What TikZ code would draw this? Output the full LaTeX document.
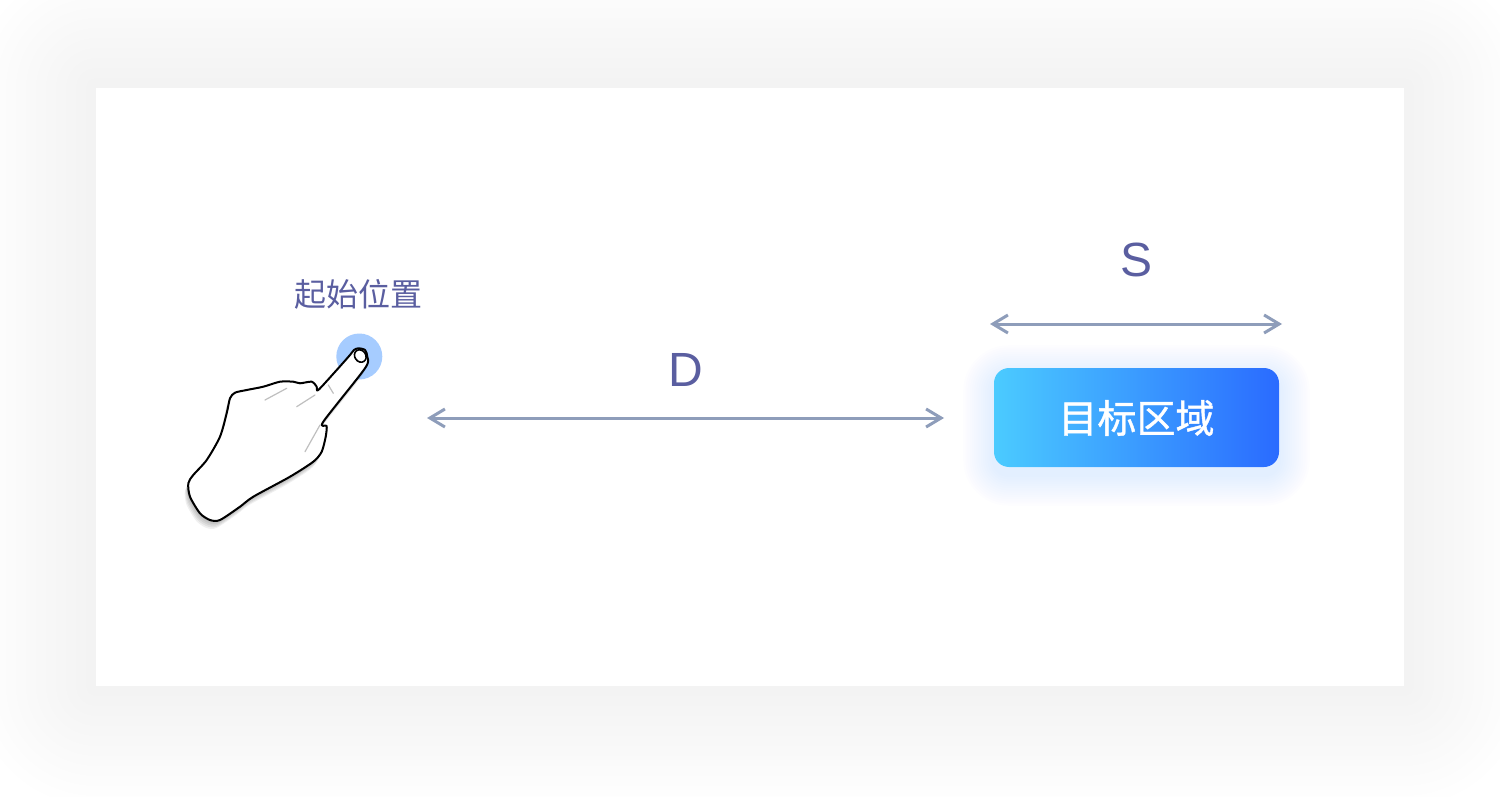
\documentclass[tikz,border=0pt]{standalone}
\usepackage{fontspec}
\setmainfont{Liberation Sans}
\newfontfamily\cjk{Noto Sans CJK SC}
\newfontfamily\cjkb{Noto Sans CJK SC}[FakeBold=1]
\usetikzlibrary{arrows.meta}
\definecolor{labelc}{HTML}{5A5EA0}
\definecolor{arrowc}{HTML}{8E9DBA}
\definecolor{gradl}{HTML}{4BCBFF}
\definecolor{gradr}{HTML}{2A6BFF}
\definecolor{touchc}{HTML}{A6CCFF}
\definecolor{glowc}{HTML}{4A7CFF}
\newcommand{\handshape}{plot[smooth cycle,tension=0.45] coordinates{
 (358.3,348.3) (365,350) (367.3,356.7) (365,368.3) (323.3,421.7) (326.7,426)
 (325.7,436.7) (321.7,451.7) (313.3,461.7) (290,476.7) (253.3,496.7) (240,506.7)
 (220,520) (210,520) (200,513.3) (190,496.7) (188.3,483.3) (193.3,475) (206.7,460)
 (220,436.7) (226.7,413.3) (230,398.3) (235,392.7) (246.7,390) (263.3,386.7)
 (280,381.7) (293.3,381.7) (300,383.3) (311.7,381.7) (316.7,386.7) (318.3,390)
 (336.7,370) (350,355) (354,350)}}
\tikzset{
  dim/.style={draw=arrowc, line width=1.5pt, {Straight Barb[length=7.5pt,width=9pt,line width=1.5pt]}-{Straight Barb[length=7.5pt,width=9pt,line width=1.5pt]}},
  lbl/.style={text=labelc, inner sep=0pt, font=\fontsize{24}{24}\selectfont},
  cjklbl/.style={text=labelc, inner sep=0pt, font=\cjk\fontsize{16}{16}\selectfont},
  wrinkle/.style={draw=gray!50, line width=0.6pt, line cap=round},
}
\begin{document}
\begin{tikzpicture}[x=0.5pt,y=-0.5pt]
\useasboundingbox (0,0) rectangle (1500,797);
\fill[white] (0,0) rectangle (1500,797);
% panel shadow
\foreach \i in {1,...,12}{
  \pgfmathsetmacro\e{10*\i}
  \pgfmathsetmacro\rr{5*\i}
  \fill[black,opacity=0.0038,rounded corners=\rr pt] ({96-\e},{88-\e}) rectangle ({1404+\e},{686+\e});
}
\fill[white] (96,88) rectangle (1404,686);
% target glow
\foreach \i in {1,...,14}{
  \pgfmathsetmacro\e{2.2*\i}
  \pgfmathsetmacro\rr{7.5+1.1*\i}
  \fill[glowc,opacity=0.0065,rounded corners=\rr pt] ({994-\e},{376-\e}) rectangle ({1279+\e},{475+\e});
}
\fill[white,rounded corners=7.5pt] (994,368) rectangle (1279,467);
\shade[left color=gradl,right color=gradr,rounded corners=7.5pt] (994,368) rectangle (1279,467);
\node[inner sep=0pt,text=white,font=\cjkb\fontsize{19.5}{19.5}\selectfont] (target) at (1136.5,418) {目标区域};
% touch point
\node[circle,fill=touchc,minimum size=23pt,inner sep=0pt] (touch) at (359.3,356.5) {};
\node[cjklbl] (start) at (358.5,294) {起始位置};
% hand shadow
\foreach \s in {1,...,5}{
  \fill[black,opacity=0.06,shift={({-0.7*\s},{1.6*\s})}] \handshape;
}
\filldraw[fill=white,draw=black,line width=1pt,line join=round] \handshape;
\draw[black,line width=0.8pt,fill=white,rotate around={-55:(360.3,356)}] (360.3,356) ellipse (6.5 and 5.5);
\draw[wrinkle] (265,400) -- (286.7,388.3);
\draw[wrinkle] (296.7,406.7) -- (315,395);
\draw[wrinkle] (328.3,385) -- (333.3,393.3);
\draw[wrinkle] (305,451.7) -- (320,425);
% distance D
\coordinate (dL) at (427,418);
\coordinate (dR) at (944,418);
\draw[dim] (dL) -- (dR);
\node[lbl] (D) at (685.5,370) {D};
% size S
\coordinate (sL) at (990,324);
\coordinate (sR) at (1282,324);
\draw[dim] (sL) -- (sR);
\node[lbl] (S) at (1136,260) {S};
\end{tikzpicture}
\end{document}
